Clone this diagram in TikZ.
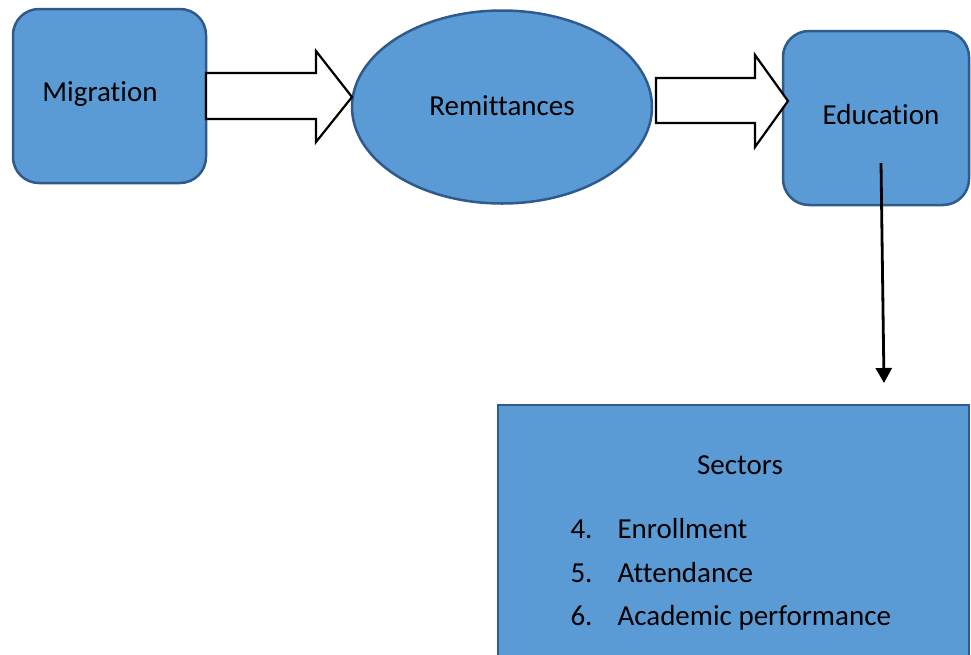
\documentclass[tikz,border=0pt]{standalone}
\usepackage{fontspec}
\setmainfont[Ligatures=NoCommon]{Carlito}
\usetikzlibrary{arrows.meta,shapes.geometric}
\definecolor{boxfill}{HTML}{5B9BD5}
\definecolor{boxline}{HTML}{2F5A8C}
\tikzset{
  x=1pt,y=-1pt,
  every node/.style={font=\fontsize{29}{35}\selectfont},
  bluebox/.style={draw=boxline,fill=boxfill,line width=2.5pt},
  blockarrow/.style={draw=black,fill=white,line width=2.2pt,line join=miter},
  pointer/.style={draw=black,line width=2.8pt,-{Triangle[width=16pt,length=15pt]}}
}
\begin{document}
\begin{tikzpicture}
\useasboundingbox (0,0) rectangle (971,654);
\clip (0,0) rectangle (971,654);

% source, channel and target
\draw[bluebox,rounded corners=26pt] (13,9) rectangle (206,183);
\node[anchor=center] (mig) at (100,94) {Migration};
\draw[bluebox] (502,107) ellipse [x radius=150, y radius=96.5];
\coordinate (remW) at (352,97);
\node (rem) at (502,106) {Remittances};
\draw[bluebox,rounded corners=26pt] (783,31) rectangle (969,205);
\node (edu) at (881,115) {Education};

% block arrows between the stages
\draw[blockarrow] (206,73) -- (316,73) -- (316,51) -- (remW) -- (316,142) -- (316,119) -- (206,119) -- cycle;
\draw[blockarrow] (656,78) -- (755,78) -- (755,55) -- (788,101) -- (755,147) -- (755,123) -- (656,123) -- cycle;

% pointer down to the sectors box
\coordinate (eduS) at (881,163);
\coordinate (secN) at (884,383);
\draw[pointer] (eduS) -- (secN);

% sectors box
\draw[bluebox] (498,405) rectangle (969,680);
\node (sec) at (740,465) {Sectors};
\node[anchor=base west] (n4) at (567,538) {4.};
\node[anchor=base west] (i4) at (614,538) {Enrollment};
\node[anchor=base west] (n5) at (567,582) {5.};
\node[anchor=base west] (i5) at (614,582) {Attendance};
\node[anchor=base west] (n6) at (567,625) {6.};
\node[anchor=base west] (i6) at (614,625) {Academic performance};
\end{tikzpicture}
\end{document}
